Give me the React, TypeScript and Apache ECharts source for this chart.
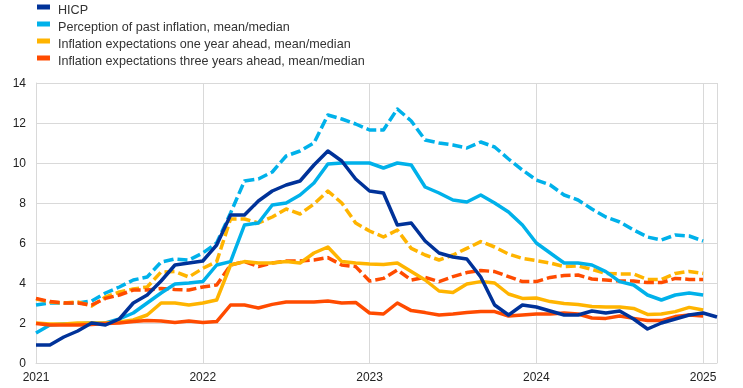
import React, { useEffect, useRef } from "react";
import * as echarts from "echarts";

const years = ["2021", "2022", "2023", "2024", "2025"];
const monthNames = ["01", "02", "03", "04", "05", "06", "07", "08", "09", "10", "11", "12"];
// Jan 2021 .. Feb 2025
const categories: string[] = [];
for (let y = 0; y < years.length; y++) {
  for (let m = 0; m < 12; m++) {
    if (y === years.length - 1 && m > 1) break;
    categories.push(years[y] + "-" + monthNames[m]);
  }
}

const seriesNames = [
  "HICP",
  "Perception of past inflation, mean/median",
  "Inflation expectations one year ahead, mean/median",
  "Inflation expectations three years ahead, mean/median",
];

const hicp = [
  0.9, 0.9, 1.3, 1.6, 2.0, 1.9, 2.2, 3.0, 3.4, 4.1, 4.9, 5.0,
  5.1, 5.9, 7.4, 7.4, 8.1, 8.6, 8.9, 9.1, 9.9, 10.6, 10.1, 9.2,
  8.6, 8.5, 6.9, 7.0, 6.1, 5.5, 5.3, 5.2, 4.3, 2.9, 2.4, 2.9,
  2.8, 2.6, 2.4, 2.4, 2.6, 2.5, 2.6, 2.2, 1.7, 2.0, 2.2, 2.4,
  2.5, 2.3,
];

const perceptionMedian = [
  1.5, 1.9, 1.95, 1.95, 2.0, 2.0, 2.2, 2.5, 3.0, 3.5, 3.95, 4.0,
  4.07, 4.9, 5.07, 6.9, 7.0, 7.9, 8.0, 8.4, 9.0, 9.95, 10.0, 10.0,
  10.0, 9.75, 10.0, 9.9, 8.8, 8.5, 8.15, 8.05, 8.4, 8.0, 7.55, 6.9,
  6.0, 5.5, 5.0, 5.0, 4.9, 4.57, 4.07, 3.9, 3.4, 3.15, 3.4, 3.5,
  3.4,
];

const perceptionMean = [
  2.9, 3.0, 3.0, 3.0, 3.1, 3.5, 3.8, 4.15, 4.3, 5.05, 5.2, 5.15,
  5.5, 6.0, 7.5, 9.1, 9.2, 9.55, 10.35, 10.6, 11.0, 12.4, 12.2, 11.95,
  11.65, 11.65, 12.7, 12.1, 11.15, 11.0, 10.9, 10.75, 11.05, 10.8, 10.2, 9.65,
  9.15, 8.9, 8.4, 8.15, 7.7, 7.3, 7.05, 6.65, 6.3, 6.15, 6.4, 6.35,
  6.1,
];

const oneYearMedian = [
  2.0, 1.95, 1.95, 2.0, 2.0, 2.0, 2.05, 2.15, 2.4, 3.0, 3.0, 2.9,
  3.0, 3.15, 4.9, 5.07, 5.0, 5.0, 5.07, 5.0, 5.5, 5.8, 5.07, 5.0,
  4.95, 4.93, 5.0, 4.57, 4.15, 3.6, 3.53, 3.95, 4.07, 4.0, 3.45, 3.23,
  3.25, 3.07, 2.97, 2.93, 2.83, 2.8, 2.8, 2.73, 2.43, 2.45, 2.57, 2.78,
  2.65,
];

const oneYearMean = [
  3.2, 3.05, 3.0, 3.05, 2.85, 3.3, 3.55, 3.7, 3.8, 4.55, 4.57, 4.3,
  4.73, 5.07, 7.2, 7.2, 7.0, 7.3, 7.7, 7.45, 7.95, 8.6, 8.0, 7.0,
  6.6, 6.3, 6.65, 5.73, 5.4, 5.15, 5.4, 5.73, 6.07, 5.8, 5.45, 5.23,
  5.12, 5.0, 4.82, 4.85, 4.68, 4.48, 4.45, 4.45, 4.18, 4.18, 4.48, 4.58,
  4.48,
];

const threeYearMean = [
  3.23, 3.07, 3.0, 3.0, 2.9, 3.23, 3.4, 3.65, 3.65, 3.73, 3.68, 3.65,
  3.8, 3.9, 4.9, 5.07, 4.82, 5.0, 5.1, 5.1, 5.15, 5.27, 4.9, 4.82,
  4.1, 4.23, 4.65, 4.15, 4.28, 4.07, 4.32, 4.52, 4.63, 4.57, 4.32, 4.07,
  4.07, 4.28, 4.37, 4.4, 4.2, 4.15, 4.1, 4.1, 4.02, 4.02, 4.23, 4.18,
  4.18,
];

const threeYearMedian = [
  1.98, 1.9, 1.9, 1.9, 1.92, 1.98, 2.0, 2.07, 2.12, 2.1, 2.03, 2.1,
  2.03, 2.07, 2.9, 2.9, 2.75, 2.93, 3.05, 3.05, 3.05, 3.1, 3.0, 3.03,
  2.5, 2.45, 3.0, 2.62, 2.52, 2.4, 2.45, 2.52, 2.57, 2.57, 2.35, 2.4,
  2.45, 2.45, 2.5, 2.45, 2.25, 2.23, 2.35, 2.23, 2.12, 2.12, 2.32, 2.4,
  2.35,
];

const colors = ["#003299", "#00B1EA", "#FFB400", "#FF4B00"];
const FONT = "'Liberation Sans', Arial, sans-serif";

function lineSeries(name: string, data: number[], color: string, dashed: boolean) {
  return {
    type: "line",
    name,
    data,
    color,
    showSymbol: false,
    symbol: "none",
    lineStyle: { color, width: 3.5, type: dashed ? [10, 4] : "solid", cap: "butt", join: "round" },
    itemStyle: { color, borderWidth: 0 },
    emphasis: { disabled: true },
  };
}

export default function App() {
  const ref = useRef<HTMLDivElement>(null);
  useEffect(() => {
    if (!ref.current) return;
    const chart = echarts.init(ref.current, undefined, { renderer: "svg" });
    chart.setOption({
      animation: false,
      textStyle: { fontFamily: FONT },
      legend: {
        orient: "vertical",
        left: 37,
        top: 3,
        padding: 0,
        itemWidth: 13,
        itemHeight: 11,
        itemGap: 3,
        icon: "path://M0,0H13V5H0Z M0,11H0.01V11.01H0Z",
        itemStyle: { borderWidth: 0 },
        textStyle: { fontFamily: FONT, fontSize: 12.6, color: "#333333", lineHeight: 14, padding: [0, 0, 0, 3] },
        data: seriesNames,
        selectedMode: false,
      },
      grid: { left: 36, right: 26, top: 83, bottom: 25, containLabel: false },
      xAxis: {
        type: "category",
        data: categories,
        boundaryGap: false,
        axisLine: { show: true, lineStyle: { color: "#d9d9d9", width: 1 } },
        axisTick: { show: false },
        axisLabel: {
          interval: (i: number) => i % 12 === 0,
          formatter: (v: string) => v.slice(0, 4),
          color: "#222222",
          fontSize: 12,
          fontFamily: FONT,
          margin: 8,
        },
        splitLine: {
          show: true,
          interval: (i: number) => i % 12 === 0 || i === categories.length - 1,
          lineStyle: { color: "#d9d9d9", width: 1 },
        },
      },
      yAxis: {
        type: "value",
        min: 0,
        max: 14,
        interval: 2,
        axisLine: { show: true, lineStyle: { color: "#d9d9d9", width: 1 } },
        axisTick: { show: false },
        axisLabel: { color: "#222222", fontSize: 12, fontFamily: FONT, margin: 10 },
        splitLine: { show: true, lineStyle: { color: "#d9d9d9", width: 1 } },
      },
      series: [
        lineSeries(seriesNames[1], perceptionMean, colors[1], true),
        lineSeries(seriesNames[2], oneYearMean, colors[2], true),
        lineSeries(seriesNames[3], threeYearMean, colors[3], true),
        lineSeries(seriesNames[1], perceptionMedian, colors[1], false),
        lineSeries(seriesNames[2], oneYearMedian, colors[2], false),
        lineSeries(seriesNames[3], threeYearMedian, colors[3], false),
        lineSeries(seriesNames[0], hicp, colors[0], false),
      ],
    });
    return () => chart.dispose();
  }, []);
  return <div ref={ref} style={{ position: "fixed", left: 0, top: 0, width: 743, height: 388 }} />;
}
